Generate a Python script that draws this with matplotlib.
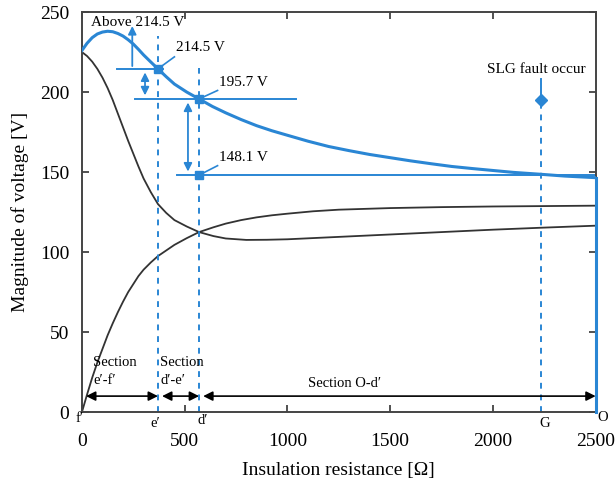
import matplotlib.pyplot as plt
import numpy as np

plt.rcParams['font.family'] = ['Liberation Serif', 'DejaVu Serif']

blue = '#2a86d4'

# curves (resistance in ohm, voltage in V)
r_blue = [0, 25, 50, 75, 100, 125, 150, 175, 200, 225, 250, 275, 300, 335, 370, 410,
          450, 510, 570, 635, 700, 775, 850, 925, 1000, 1100, 1200, 1300, 1400, 1500,
          1600, 1700, 1800, 1900, 2000, 2100, 2235, 2350, 2500]
v_blue = [226, 230.5, 234, 236.3, 237.5, 238, 237.7, 236.6, 235, 232.7, 230, 226.7,
          223.2, 218.8, 214.5, 209.6, 205, 200, 195.7, 191, 187, 182.8, 179, 175.8, 173,
          169.3, 166, 163.4, 161, 159, 157, 155.2, 153.5, 152.2, 151, 149.8, 148.6,
          147.5, 146.5]

r_fall = [0, 25, 50, 75, 100, 125, 150, 175, 200, 225, 250, 275, 300, 335, 370, 410,
          450, 510, 570, 640, 700, 800, 900, 1000, 1250, 1500, 1750, 2000, 2250, 2500]
v_fall = [225, 222.5, 219, 214.5, 209, 202.5, 195, 186.5, 178, 169.5, 161.5, 153.5,
          146, 137.5, 130, 124.5, 120, 116, 112.5, 110, 108.5, 107.6, 107.7, 108, 109.5,
          111, 112.5, 114, 115.3, 116.5]

r_rise = [0, 25, 50, 75, 100, 125, 150, 175, 200, 225, 250, 275, 300, 335, 370, 410,
          450, 510, 570, 640, 700, 775, 850, 925, 1000, 1125, 1250, 1500, 1750, 2000,
          2500]
v_rise = [0, 11, 21.5, 31, 39.5, 48, 55.5, 62.5, 69, 75, 80, 85, 89, 93.5, 97.5, 101,
          104.5, 108.7, 112.5, 115.5, 117.8, 120, 121.7, 123, 124, 125.5, 126.5, 127.5,
          128.1, 128.5, 129]

# key points
r_e, r_d, r_g = 370, 570, 2235
v_e, v_d, v_low = 214.5, 195.7, 148.1
v_fault = 195

fig = plt.figure(figsize=(6.16, 4.82), dpi=100)
ax = fig.add_axes([0.133, 0.145, 0.834, 0.83])

ax.plot(r_blue, v_blue, color=blue, lw=2.2, zorder=4)
ax.plot(r_fall, v_fall, color='#333333', lw=1.3)
ax.plot(r_rise, v_rise, color='#333333', lw=1.3)

# dashed section lines
ax.plot([r_e, r_e], [0, 235], color=blue, lw=1.4, ls=(0, (3, 3)))
ax.plot([r_d, r_d], [0, 215], color=blue, lw=1.4, ls=(0, (3, 3)))
ax.plot([r_g, r_g], [0, v_fault], color=blue, lw=1.4, ls=(0, (3, 3)))
ax.plot([2500, 2500], [0, 146.5], color=blue, lw=2.2, zorder=5, clip_on=False)

# reference levels
ax.plot([170, 395], [v_e, v_e], color=blue, lw=1.4)
ax.plot([260, 1040], [v_d, v_d], color=blue, lw=1.4)
ax.plot([465, 2500], [v_low, v_low], color=blue, lw=1.4)

ax.plot([r_e], [v_e], 's', color=blue, ms=6, zorder=6)
ax.plot([r_d], [v_d], 's', color=blue, ms=6, zorder=6)
ax.plot([r_d], [v_low], 's', color=blue, ms=6, zorder=6)
ax.plot([r_g], [v_fault], 'D', color=blue, ms=6, zorder=6)
ax.plot([r_g, r_g], [v_fault, 208], color=blue, lw=1.4)

# blue arrows
ax.annotate('', xy=(245, 243), xytext=(245, v_e),
            arrowprops=dict(arrowstyle='-|>', color=blue, lw=1.3, mutation_scale=12))
ax.annotate('', xy=(307, v_d + 0.5), xytext=(307, v_e - 0.5),
            arrowprops=dict(arrowstyle='<|-|>', color=blue, lw=1.3, mutation_scale=12))
ax.annotate('', xy=(516, v_low + 0.5), xytext=(516, v_d - 0.5),
            arrowprops=dict(arrowstyle='<|-|>', color=blue, lw=1.3, mutation_scale=12))

# value labels with leader lines
ax.plot([r_e, 450], [v_e, 222], color=blue, lw=1.2)
ax.plot([r_d, 660], [v_d, 201], color=blue, lw=1.2)
ax.plot([r_d, 660], [v_low, 154], color=blue, lw=1.2)
ax.text(460, 224, '214.5 V', fontsize=11, va='bottom', ha='left')
ax.text(665, 202, '195.7 V', fontsize=11, va='bottom', ha='left')
ax.text(665, 155, '148.1 V', fontsize=11, va='bottom', ha='left')
ax.text(45, 239.5, 'Above 214.5 V', fontsize=11, va='bottom', ha='left')
ax.text(2210, 210, 'SLG fault occur', fontsize=11, va='bottom', ha='center')

# section arrows at the bottom
y_arr = 10
ax.annotate('', xy=(20, y_arr), xytext=(r_e, y_arr),
            arrowprops=dict(arrowstyle='<|-|>', color='black', lw=1.2, mutation_scale=14,
                            shrinkA=0, shrinkB=0))
ax.annotate('', xy=(390, y_arr), xytext=(r_d, y_arr),
            arrowprops=dict(arrowstyle='<|-|>', color='black', lw=1.2, mutation_scale=14,
                            shrinkA=0, shrinkB=0))
ax.annotate('', xy=(590, y_arr), xytext=(2500, y_arr),
            arrowprops=dict(arrowstyle='<|-|>', color='black', lw=1.2, mutation_scale=14,
                            shrinkA=0, shrinkB=0))
ax.text(55, 16, 'Section\ne\u2032-f\u2032', fontsize=10.5, va='bottom', ha='left',
        linespacing=1.45)
ax.text(380, 16, 'Section\nd\u2032-e\u2032', fontsize=10.5, va='bottom', ha='left',
        linespacing=1.45)
ax.text(1100, 14, 'Section O-d\u2032', fontsize=10.5, va='bottom', ha='left')

# point labels under the axis
ax.text(-10, 0, 'f\u2032', fontsize=10.5, va='top', ha='center')
ax.text(r_e - 15, -3, 'e\u2032', fontsize=10.5, va='top', ha='center')
ax.text(r_d + 20, -1, 'd\u2032', fontsize=10.5, va='top', ha='center')
ax.text(r_g + 15, -3, 'G', fontsize=10.5, va='top', ha='center')
ax.text(2535, 1, 'O', fontsize=10.5, va='top', ha='center')

ax.set_xlim(0, 2500)
ax.set_ylim(0, 250)
ax.set_xticks([0, 500, 1000, 1500, 2000, 2500])
ax.set_yticks([0, 50, 100, 150, 200, 250])
ax.tick_params(direction='in', top=True, right=True, labelsize=14, length=5,
               width=1.2, colors='#333333', labelcolor='black')
ax.tick_params(axis='x', pad=15)
ax.tick_params(axis='y', pad=9)
for s in ax.spines.values():
    s.set_linewidth(1.4)
    s.set_color('#444444')

ax.set_xlabel('Insulation resistance [\u03a9]', fontsize=14, labelpad=9)
ax.set_ylabel('Magnitude of voltage [V]', fontsize=14, labelpad=8)

fig.savefig('out.png', dpi=100)
